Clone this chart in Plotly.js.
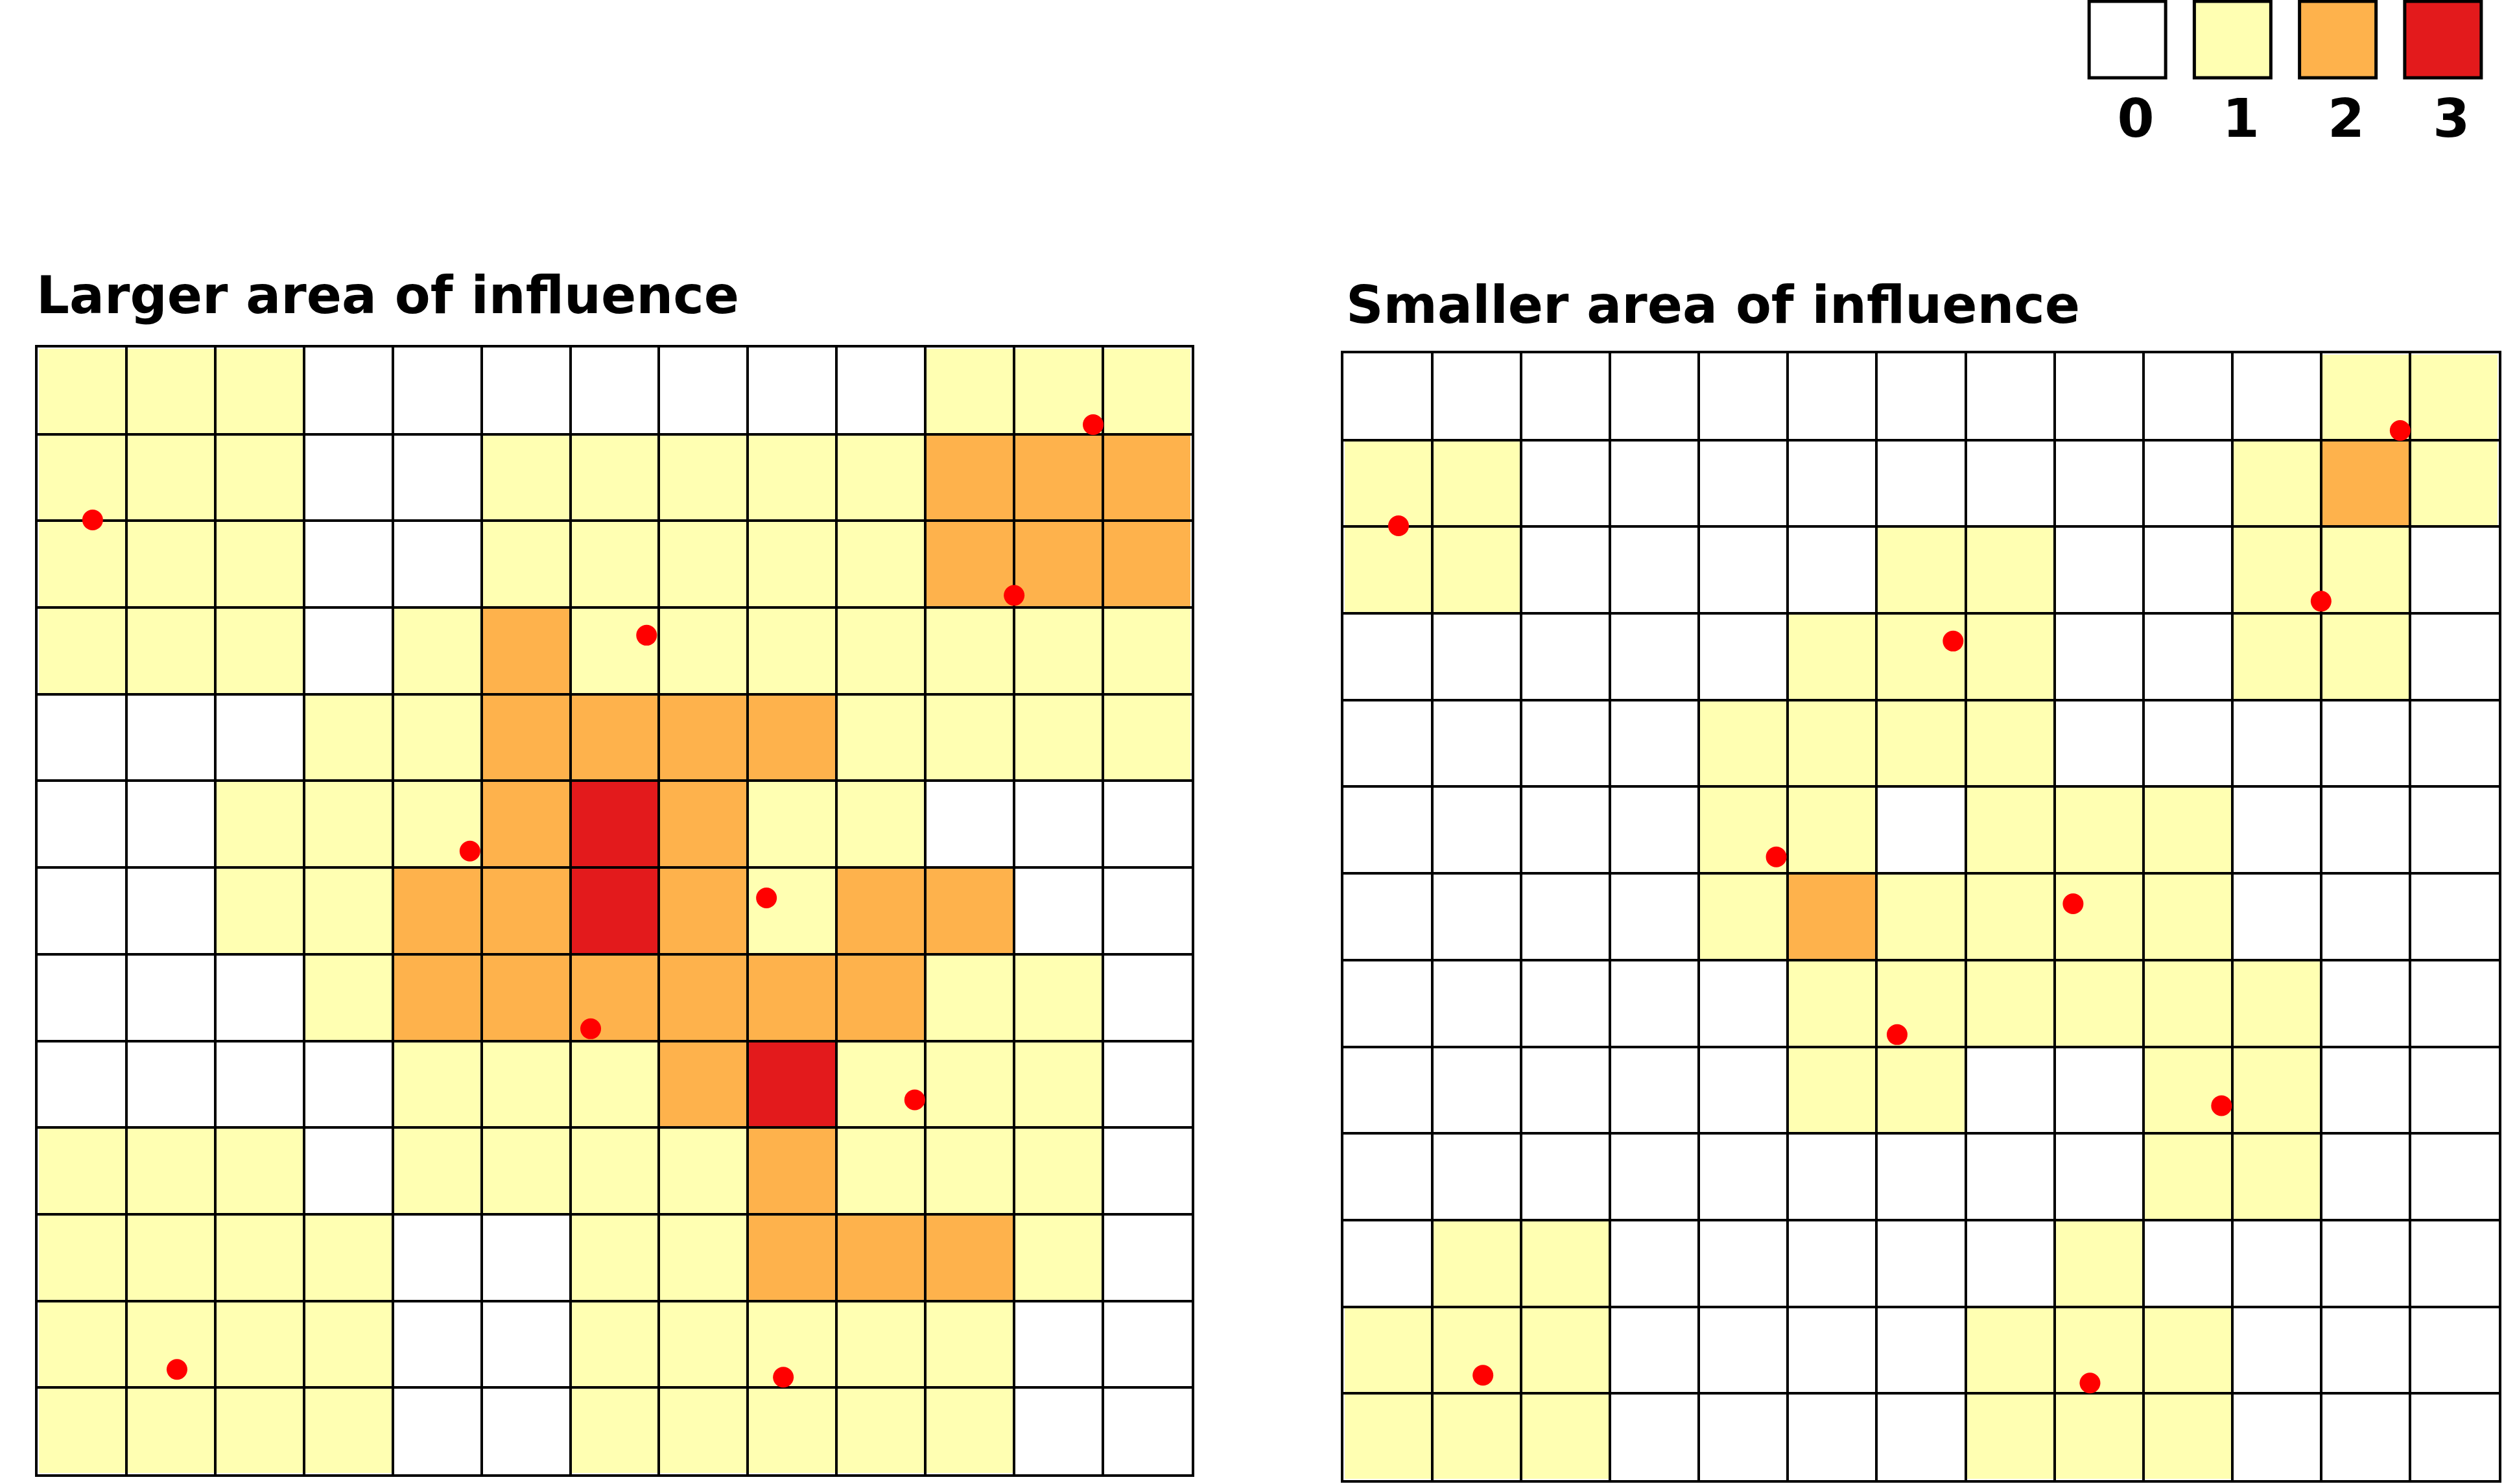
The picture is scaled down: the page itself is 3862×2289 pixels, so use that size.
<!DOCTYPE html>
<html>
<head>
<meta charset="utf-8">
<script src="https://cdn.plot.ly/plotly-3.0.1.min.js"></script>
<style>html,body{margin:0;padding:0;background:#fff;}#chart{width:3862px;height:2289px;}</style>
</head>
<body>
<div id="chart"></div>
<script>
// ---- Data ----
const LEVELS = [0, 1, 2, 3];
const LEVEL_LABELS = ['0', '1', '2', '3'];
const LEVEL_COLORS = ['#ffffff', '#ffffb2', '#feb24c', '#e31a1c'];

const TITLE_LARGER = 'Larger area of influence';
const TITLE_SMALLER = 'Smaller area of influence';

// cell values (rows top to bottom, 13 columns)
const LARGER = [
  [1,1,1,0,0,0,0,0,0,0,1,1,1],
  [1,1,1,0,0,1,1,1,1,1,2,2,2],
  [1,1,1,0,0,1,1,1,1,1,2,2,2],
  [1,1,1,0,1,2,1,1,1,1,1,1,1],
  [0,0,0,1,1,2,2,2,2,1,1,1,1],
  [0,0,1,1,1,2,3,2,1,1,0,0,0],
  [0,0,1,1,2,2,3,2,1,2,2,0,0],
  [0,0,0,1,2,2,2,2,2,2,1,1,0],
  [0,0,0,0,1,1,1,2,3,1,1,1,0],
  [1,1,1,0,1,1,1,1,2,1,1,1,0],
  [1,1,1,1,0,0,1,1,2,2,2,1,0],
  [1,1,1,1,0,0,1,1,1,1,1,0,0],
  [1,1,1,1,0,0,1,1,1,1,1,0,0]
];
const SMALLER = [
  [0,0,0,0,0,0,0,0,0,0,0,1,1],
  [1,1,0,0,0,0,0,0,0,0,1,2,1],
  [1,1,0,0,0,0,1,1,0,0,1,1,0],
  [0,0,0,0,0,1,1,1,0,0,1,1,0],
  [0,0,0,0,1,1,1,1,0,0,0,0,0],
  [0,0,0,0,1,1,0,1,1,1,0,0,0],
  [0,0,0,0,1,2,1,1,1,1,0,0,0],
  [0,0,0,0,0,1,1,1,1,1,1,0,0],
  [0,0,0,0,0,1,1,0,0,1,1,0,0],
  [0,0,0,0,0,0,0,0,0,1,1,0,0],
  [0,1,1,0,0,0,0,0,1,0,0,0,0],
  [1,1,1,0,0,0,0,1,1,1,0,0,0],
  [1,1,1,0,0,0,0,1,1,1,0,0,0]
];
// point locations in cell units from the grid's top-left corner (same points in both grids)
const POINT_COL = [11.89, 0.62, 11.00, 6.86, 4.87, 8.21, 6.23, 9.88, 1.57, 8.40];
const POINT_ROW = [0.89, 1.99, 2.86, 3.32, 5.81, 6.35, 7.86, 8.68, 11.79, 11.88];
const GRID_N = 13;

// ---- Build ----
const W = 3862, H = 2289;
const colorscale = LEVEL_COLORS.map((c, i) => [i / (LEVEL_COLORS.length - 1), c]);

function heat(z, xa, ya) {
  return {
    type: 'heatmap', z: z, x0: 0.5, dx: 1, y0: 0.5, dy: 1,
    xaxis: xa, yaxis: ya,
    colorscale: colorscale, zmin: LEVELS[0], zmax: LEVELS[LEVELS.length - 1],
    showscale: false, xgap: 4, ygap: 4, hoverinfo: 'skip'
  };
}
function pts(xa, ya) {
  return {
    type: 'scatter', mode: 'markers', x: POINT_COL, y: POINT_ROW,
    xaxis: xa, yaxis: ya,
    marker: { size: 32, color: '#ff0000', line: { width: 0 } },
    hoverinfo: 'skip', cliponaxis: false
  };
}

const traces = [
  heat(LARGER, 'x', 'y'), pts('x', 'y'),
  heat(SMALLER, 'x2', 'y2'), pts('x2', 'y2'),
  {
    type: 'scatter', mode: 'markers', x: LEVELS, y: LEVELS.map(() => 1),
    xaxis: 'x3', yaxis: 'y3',
    marker: { symbol: 'square', size: 118, color: LEVEL_COLORS, line: { color: '#000', width: 5 } },
    hoverinfo: 'skip', cliponaxis: false
  },
  {
    type: 'scatter', mode: 'text', x: LEVELS.map(v => v + 0.08), y: LEVELS.map(() => 0),
    xaxis: 'x3', yaxis: 'y3', text: LEVEL_LABELS, textposition: 'middle center',
    textfont: { family: 'DejaVu Sans', size: 82, color: '#000', weight: 'bold' },
    hoverinfo: 'skip', cliponaxis: false
  }
];

const gridAxis = (dom) => ({
  domain: dom, range: [0, GRID_N], showgrid: true, gridcolor: '#000', gridwidth: 4,
  tick0: 0, dtick: 1, zeroline: false, showticklabels: false, ticks: '',
  showline: true, mirror: true, linecolor: '#000', linewidth: 4, fixedrange: true
});
const gridAxisY = (dom) => Object.assign(gridAxis(dom), { range: [GRID_N, 0] });

const layout = {
  width: W, height: H, margin: { l: 0, r: 0, t: 0, b: 0 },
  paper_bgcolor: '#fff', plot_bgcolor: '#fff', showlegend: false,
  font: { family: 'DejaVu Sans', color: '#000' },
  xaxis: gridAxis([58 / W, 1838 / W]),
  yaxis: gridAxisY([(H - 2274) / H, (H - 536) / H]),
  xaxis2: Object.assign(gridAxis([2072 / W, 3854 / W]), { anchor: 'y2' }),
  yaxis2: Object.assign(gridAxisY([(H - 2283) / H, (H - 545) / H]), { anchor: 'x2' }),
  xaxis3: { domain: [3200 / W, 3849 / W], range: [-0.5, 3.5], visible: false, anchor: 'y3', fixedrange: true },
  yaxis3: { domain: [(H - 250) / H, 1], range: [-0.465, 1.473], visible: false, anchor: 'x3', fixedrange: true },
  annotations: [
    { text: TITLE_LARGER, xref: 'paper', yref: 'paper', x: 54 / W, xanchor: 'left',
      y: (H - 456) / H, yanchor: 'middle', showarrow: false,
      font: { family: 'DejaVu Sans', size: 80, weight: 'bold', color: '#000' } },
    { text: TITLE_SMALLER, xref: 'paper', yref: 'paper', x: 2074 / W, xanchor: 'left',
      y: (H - 471) / H, yanchor: 'middle', showarrow: false,
      font: { family: 'DejaVu Sans', size: 80, weight: 'bold', color: '#000' } }
  ]
};

Plotly.newPlot('chart', traces, layout, { staticPlot: true, displayModeBar: false });
</script>
</body>
</html>
